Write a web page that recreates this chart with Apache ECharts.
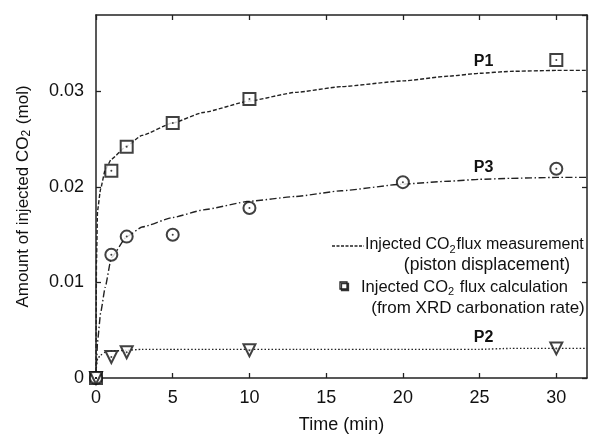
<!DOCTYPE html>
<html><head><meta charset="utf-8">
<script src="https://cdn.jsdelivr.net/npm/echarts@6/dist/echarts.min.js"></script>
<style>html,body{margin:0;padding:0;background:#fff}#c{width:590px;height:435px}</style>
</head><body><div id="c"></div>
<script>
// Measured points
var p1Time = [0, 1, 2, 5, 10, 30];
var p1Amount = [0, 0.0217, 0.0242, 0.0267, 0.0292, 0.0333];
var p3Time = [0, 1, 2, 5, 10, 20, 30];
var p3Amount = [0, 0.0129, 0.0148, 0.0150, 0.0178, 0.0205, 0.0219];
var p2Time = [0, 1, 2, 10, 30];
var p2Amount = [0, 0.0022, 0.0027, 0.0029, 0.0031];
// Measurement curves (piston displacement)
var curveTime = [0, 0.03, 0.1, 0.3, 0.6, 1, 2, 3, 5, 7, 10, 13, 16, 20, 23, 25, 27, 30, 32];
var p1Curve = [0, 0.012, 0.0175, 0.0198, 0.0218, 0.0229, 0.0243, 0.0254, 0.0267, 0.0278, 0.0290, 0.0299, 0.0305, 0.0311, 0.0316, 0.0319, 0.0321, 0.0322, 0.0322];
var p3Curve = [0, 0.0015, 0.0038, 0.0068, 0.0095, 0.0126, 0.0148, 0.0158, 0.0168, 0.0176, 0.0185, 0.0190, 0.0196, 0.0203, 0.0206, 0.0208, 0.0209, 0.0210, 0.0210];
var p2Curve = [0, 0.0012, 0.0020, 0.0024, 0.0027, 0.0028, 0.0029, 0.0030, 0.0030, 0.0030, 0.0030, 0.0030, 0.0030, 0.0030, 0.0030, 0.0030, 0.0031, 0.0031, 0.0031];
var curveNames = ['P1', 'P3', 'P2'];
var xTicks = [0, 5, 10, 15, 20, 25, 30];
var yTicks = [0, 0.01, 0.02, 0.03];

function pairs(xs, ys) { return xs.map(function (x, i) { return [x, ys[i]]; }); }
var FONT = 'Liberation Sans, Arial, sans-serif';
var INK = '#111';

function curve(name, ys, dash) {
  return {
    type: 'line', name: name,
    data: pairs(curveTime, ys).map(function (p, i) {
      var d = { value: p };
      if (curveTime[i] === 25) {
        d.label = { show: true, formatter: name, position: 'top', distance: 3, offset: [4, 0],
          fontFamily: FONT, fontWeight: 'bold', fontSize: 16, color: '#111' };
      }
      return d;
    }),
    showSymbol: true, showAllSymbol: true, symbol: 'circle', symbolSize: 1,
    itemStyle: { color: 'rgba(0,0,0,0)' },
    smooth: 0.15, smoothMonotone: 'x', z: 2, silent: true,
    lineStyle: { color: '#222', width: 1.4, type: dash }
  };
}
function markers(xs, ys, sym, rot) {
  return [{
    type: 'scatter', data: pairs(xs, ys), symbol: sym, symbolSize: 12, symbolRotate: rot || 0, z: 5,
    itemStyle: { color: INK, borderColor: INK, borderWidth: 2.2 }
  }, {
    type: 'scatter', data: pairs(xs, ys), symbol: 'circle', symbolSize: 2, z: 6,
    itemStyle: { color: INK }
  }];
}

function axisCommon() {
  return {
    axisLine: { show: true, onZero: false, lineStyle: { color: '#222', width: 1.5 } },
    axisTick: { show: true, inside: true, length: 5, lineStyle: { color: '#222', width: 1.3 } },
    splitLine: { show: false }
  };
}
var subRich = function (size, pad) {
  return { a: { fontFamily: FONT, fontSize: size, color: '#111', fill: '#111' },
           s: { fontFamily: FONT, fontSize: Math.round(size * 0.68), color: '#111', fill: '#111', verticalAlign: 'bottom', padding: [pad, 1, 0, 0] } };
};

var chart = echarts.init(document.getElementById('c'));
chart.setOption({
  animation: false,
  backgroundColor: '#fff',
  grid: { left: 96, right: 3, top: 15, bottom: 57, containLabel: false, outerBoundsMode: 'none' },
  xAxis: [
    Object.assign({
      type: 'value', min: 0, max: 32, interval: 5, position: 'bottom',
      name: 'Time (min)', nameLocation: 'middle', nameGap: 38,
      nameTextStyle: { fontFamily: FONT, fontSize: 18, color: '#111' },
      axisLabel: { fontFamily: FONT, fontSize: 18, color: '#111', margin: 11, showMaxLabel: false,
        formatter: function (v) { return xTicks.indexOf(v) >= 0 ? String(v) : ''; } }
    }, axisCommon()),
    Object.assign({ type: 'value', min: 0, max: 32, interval: 5, position: 'top', axisLabel: { show: false } }, axisCommon())
  ],
  yAxis: [
    Object.assign({
      type: 'value', min: 0, max: 0.038, interval: 0.01, position: 'left',
      name: '{a|Amount of injected CO}{s|2}{a| (mol)}', nameLocation: 'middle', nameGap: 63,
      nameTextStyle: { fontFamily: FONT, fontSize: 17, color: '#111', rich: subRich(17, 8) },
      axisLabel: { fontFamily: FONT, fontSize: 18, color: '#111', margin: 12, showMaxLabel: false,
        formatter: function (v) { var i = yTicks.findIndex(function (t) { return Math.abs(t - v) < 1e-9; }); return i >= 0 ? (yTicks[i] === 0 ? '0' : String(yTicks[i])) : ''; } }
    }, axisCommon()),
    Object.assign({ type: 'value', min: 0, max: 0.038, interval: 0.01, position: 'right', axisLabel: { show: false } }, axisCommon())
  ],
  series: [
    curve(curveNames[0], p1Curve, [4, 2]),
    curve(curveNames[1], p3Curve, [7, 2.5, 1.5, 2.5]),
    curve(curveNames[2], p2Curve, [1.5, 2])
  ].concat(markers(p1Time, p1Amount, 'emptyRect'))
   .concat(markers(p3Time, p3Amount, 'emptyCircle'))
   .concat(markers(p2Time, p2Amount, 'emptyTriangle', 180)),
  graphic: [
    { type: 'line', shape: { x1: 332, y1: 246, x2: 364, y2: 246 }, style: { stroke: '#222', lineWidth: 1.3, lineDash: [3, 1.5] } },
    { type: 'text', x: 365, y: 245, style: { text: '{a|Injected CO}{s|2}{a|flux measurement}', verticalAlign: 'middle', align: 'left', rich: subRich(16, 9) } },
    { type: 'text', x: 487, y: 265, style: { text: '(piston displacement)', align: 'center', verticalAlign: 'middle', fontFamily: FONT, fontSize: 17.5, fill: '#111' } },
    { type: 'rect', shape: { x: 340, y: 282, width: 7, height: 7 }, style: { fill: '#fff', stroke: '#222', lineWidth: 1.3, shadowColor: '#333', shadowOffsetX: 1.5, shadowOffsetY: 1.5 } },
    { type: 'text', x: 361, y: 287, style: { text: '{a|Injected CO}{s|2}{a| flux calculation}', verticalAlign: 'middle', align: 'left', rich: subRich(16.5, 9) } },
    { type: 'text', x: 478, y: 308, style: { text: '(from XRD carbonation rate)', align: 'center', verticalAlign: 'middle', fontFamily: FONT, fontSize: 17, fill: '#111' } }
  ]
});
</script></body></html>
